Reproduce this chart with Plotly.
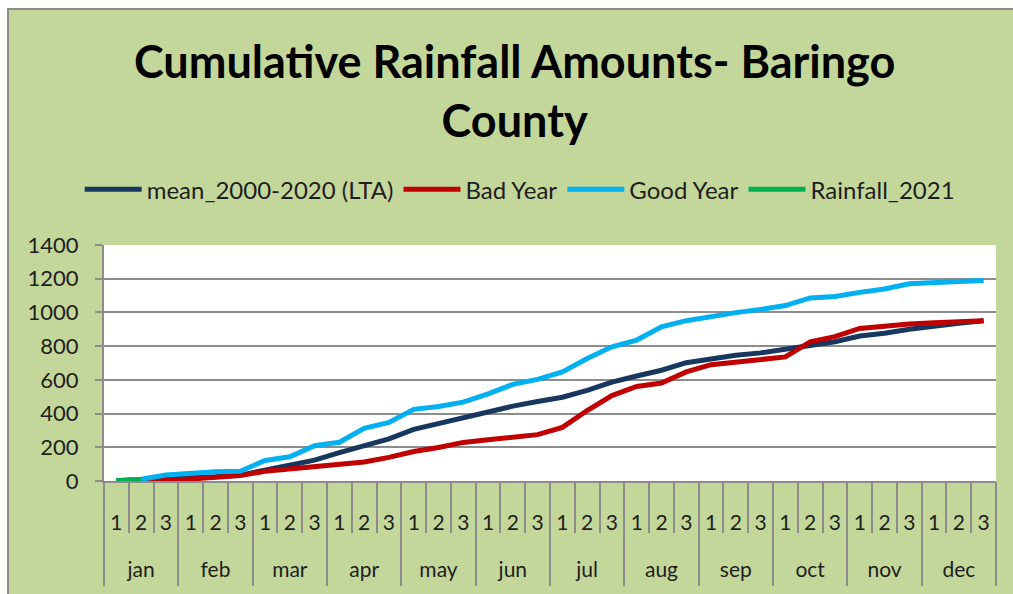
import plotly.graph_objects as go

# Dekad categories (three per month)
months = ["jan", "feb", "mar", "apr", "may", "jun",
          "jul", "aug", "sep", "oct", "nov", "dec"]
dekads = ["1", "2", "3"]
month_level = [m for m in months for _ in dekads]
dekad_level = [d for _ in months for d in dekads]

# Cumulative rainfall (mm) per dekad
mean_lta = [2, 6, 12, 18, 25, 35, 65, 97, 124, 168, 206, 250,
            306, 342, 378, 408, 444, 472, 497, 537, 587, 623, 657, 702,
            725, 746, 760, 780, 806, 826, 860, 876, 900, 920, 935, 951]
bad_year = [0, 0, 5, 12, 20, 32, 58, 72, 88, 97, 113, 140,
            175, 199, 229, 245, 259, 275, 318, 418, 507, 561, 581, 647,
            690, 705, 722, 736, 826, 856, 905, 919, 931, 939, 945, 951]
good_year = [2, 10, 35, 47, 55, 58, 122, 144, 210, 230, 312, 348,
             425, 442, 468, 517, 573, 603, 647, 727, 796, 836, 915, 951,
             978, 999, 1018, 1041, 1086, 1095, 1119, 1139, 1170, 1174, 1184, 1190]
rain_2021 = [3, 8] + [None] * 34

FONT = "Lato"
TEXT = "#1e1e1e"
GRID = "#8c8c8c"
CHART_BG = "#c4d79b"
CLEAR = "rgba(0,0,0,0)"

# Position index of each dekad along the x axis
idx = list(range(len(dekad_level)))
n = len(idx)
xrange = [-0.5, n - 0.5]
boundaries = [i - 0.5 for i in range(n + 1)]
month_bounds = [i - 0.5 for i in range(0, n + 1, len(dekads))]
month_centres = [i + (len(dekads) - 1) / 2 for i in range(0, n, len(dekads))]

fig = go.Figure()
series = [
    ("mean_2000-2020 (LTA)", mean_lta, "#17375e"),
    ("Bad Year", bad_year, "#c00000"),
    ("Good Year", good_year, "#00b0f0"),
    ("Rainfall_2021", rain_2021, "#00b050"),
]
for name, vals, color in series:
    fig.add_trace(go.Scatter(
        x=idx, y=vals, name=name, mode="lines",
        line=dict(color=color, width=5),
        connectgaps=False,
    ))

# empty traces so the overlay axes are rendered
for ax in ["x2", "x3", "x4"]:
    fig.add_trace(go.Scatter(x=[], y=[], xaxis=ax, yaxis="y",
                             showlegend=False, hoverinfo="skip"))

# Chart frame (green panel with grey border) and white plot area
fig.add_shape(type="rect", xref="paper", yref="paper",
              x0=-0.1076, x1=1.05, y0=-0.6, y1=2.0,
              fillcolor=CHART_BG, line=dict(color="#8c8c8c", width=2),
              layer="below")
fig.add_shape(type="rect", xref="paper", yref="paper",
              x0=0, x1=1, y0=0, y1=1,
              fillcolor="white", line=dict(width=0), layer="below")

fig.update_layout(
    width=1013, height=594,
    margin=dict(l=104, r=17, t=245, b=113),
    paper_bgcolor="white",
    plot_bgcolor=CLEAR,
    font=dict(family=FONT, color=TEXT, size=20),
    title=dict(
        text="Cumulative Rainfall Amounts- Baringo<br>County",
        font=dict(family=FONT, size=45, color="black", weight="bold"),
        x=0.508, xanchor="center", xref="container",
        y=0.868, yanchor="top", yref="container",
    ),
    legend=dict(
        orientation="h", x=0.466, xanchor="center",
        y=1.235, yanchor="middle",
        font=dict(family=FONT, size=24, color=TEXT),
        bgcolor=CLEAR, itemwidth=57,
        traceorder="normal",
    ),
    showlegend=True,
    # dekad labels 1/2/3
    xaxis=dict(
        range=xrange, tickmode="array", tickvals=idx, ticktext=dekad_level,
        ticks="outside", ticklen=22, tickcolor=CLEAR,
        showline=True, linecolor=GRID, linewidth=2,
        showgrid=False, zeroline=False, automargin=False,
        tickfont=dict(family=FONT, size=21, color=TEXT),
    ),
    # dekad boundary ticks
    xaxis2=dict(
        overlaying="x", anchor="y", side="bottom", range=xrange,
        tickmode="array", tickvals=boundaries, showticklabels=False,
        ticks="outside", ticklen=51, tickcolor=GRID, tickwidth=2,
        showgrid=False, zeroline=False, showline=False, automargin=False,
    ),
    # month dividers
    xaxis3=dict(
        overlaying="x", anchor="y", side="bottom", range=xrange,
        tickmode="array", tickvals=month_bounds, showticklabels=False,
        ticks="outside", ticklen=104, tickcolor=GRID, tickwidth=2,
        showgrid=False, zeroline=False, showline=False, automargin=False,
    ),
    # month names
    xaxis4=dict(
        overlaying="x", anchor="y", side="bottom", range=xrange,
        tickmode="array", tickvals=month_centres, ticktext=months,
        ticks="outside", ticklen=70, tickcolor=CLEAR,
        showgrid=False, zeroline=False, showline=False, automargin=False,
        tickfont=dict(family=FONT, size=21, color=TEXT),
    ),
)

fig.update_yaxes(
    range=[0, 1400], dtick=200, automargin=False,
    showgrid=True, gridcolor=GRID, gridwidth=2,
    showline=True, linecolor=GRID, linewidth=2,
    ticks="outside", ticklen=7, tickcolor=GRID, tickwidth=2,
    ticklabelstandoff=12,
    tickfont=dict(family=FONT, size=22, color=TEXT),
    zeroline=False,
)

fig.write_html("out.html")
